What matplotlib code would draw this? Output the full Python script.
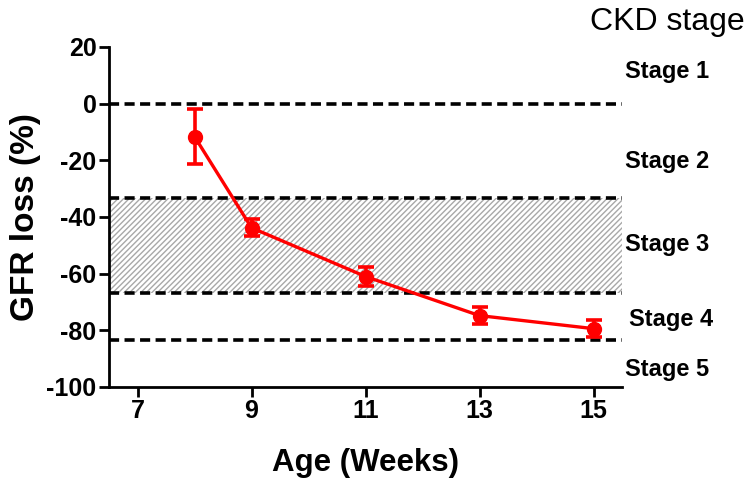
import matplotlib
matplotlib.use("Agg")
import matplotlib.pyplot as plt

plt.rcParams['font.family'] = ['Liberation Sans', 'DejaVu Sans']
plt.rcParams['axes.unicode_minus'] = False
plt.rcParams['hatch.color'] = '#a8a8a8'
plt.rcParams['hatch.linewidth'] = 1.0

# data
age_weeks = [8, 9, 11, 13, 15]
gfr_loss = [-11.6, -43.8, -61.0, -74.8, -79.4]
gfr_err = [9.7, 3.0, 3.5, 3.0, 3.0]

stage_bounds = [0, -33.3, -66.7, -83.3]
stage_names = ["Stage 1", "Stage 2", "Stage 3", "Stage 4", "Stage 5"]
stage_label_y = [11.3, -20.5, -49.8, -76.2, -93.9]
stage_label_x = [15.55, 15.55, 15.55, 15.62, 15.55]

xticks = [7, 9, 11, 13, 15]
yticks = [20, 0, -20, -40, -60, -80, -100]

fig = plt.figure(figsize=(7.49, 4.83), dpi=100)
ax = fig.add_axes([109 / 749, 1 - 387 / 483, (622 - 109) / 749, (387 - 47) / 483])

# stage 3 hatched band
ax.fill_between([6.5, 15.5], stage_bounds[1], stage_bounds[2],
                facecolor='white', hatch='//////', edgecolor='#a8a8a8', linewidth=0)

for b in stage_bounds:
    ax.axhline(b, color='black', linestyle=(0, (2.8, 1.5)), linewidth=2.6, zorder=2)

ax.errorbar(age_weeks, gfr_loss, yerr=gfr_err, color='red', marker='o',
            markersize=10, linewidth=2.4, elinewidth=2.6, capsize=6,
            capthick=2.6, zorder=5)

ax.set_xlim(6.5, 15.5)
ax.set_ylim(-100, 20)
ax.set_xticks(xticks)
ax.set_yticks(yticks)
for lab in ax.get_xticklabels() + ax.get_yticklabels():
    lab.set_fontweight('bold')
ax.tick_params(axis='both', labelsize=18, width=2, length=7, direction='out', pad=2)

ax.spines['top'].set_visible(False)
ax.spines['right'].set_visible(False)
ax.spines['left'].set_linewidth(2)
ax.spines['bottom'].set_linewidth(2)

ax.set_xlabel("Age (Weeks)", fontsize=22.5, fontweight='bold', labelpad=18)
ax.set_ylabel("GFR loss (%)", fontsize=24, fontweight='bold', labelpad=4)

for name, xx, yy in zip(stage_names, stage_label_x, stage_label_y):
    ax.text(xx, yy, name, fontsize=17, fontweight='bold', va='center', ha='left',
            clip_on=False)

fig.text(745 / 749, 1 - 22 / 483, "CKD stage", fontsize=23, ha='right', va='center')

fig.savefig("out.png", dpi=100)
